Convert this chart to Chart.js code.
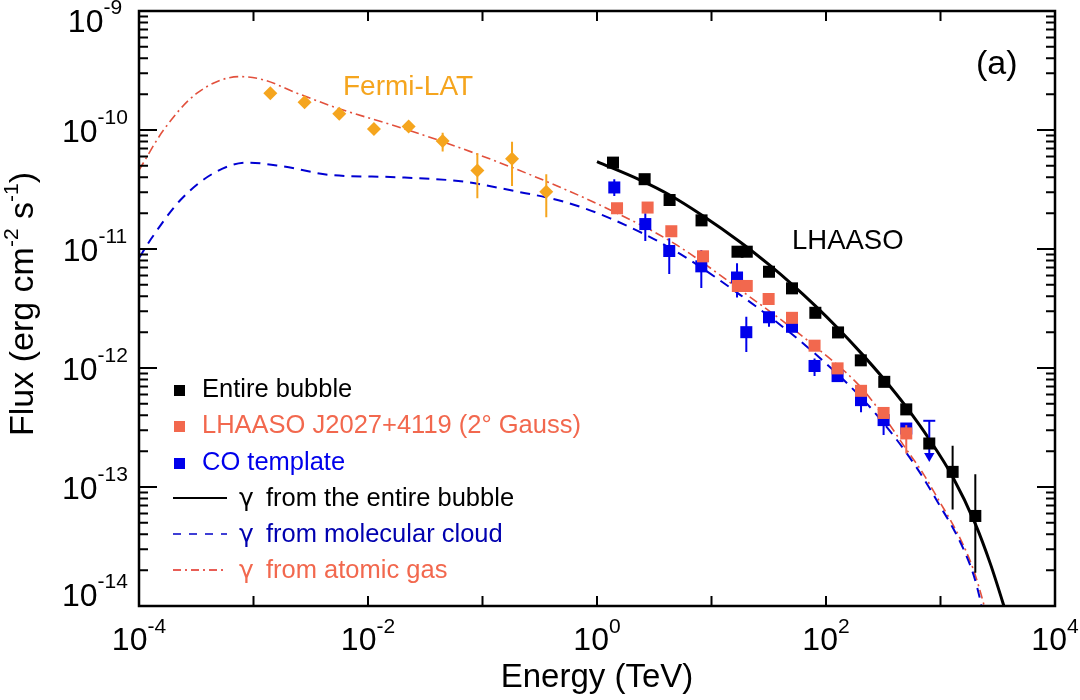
<!DOCTYPE html>
<html>
<head>
<meta charset="utf-8">
<script src="https://cdn.jsdelivr.net/npm/chart.js@4.4.1/dist/chart.umd.min.js"></script>
<style>
  body { margin: 0; background: #fff; }
  #wrap { width: 1080px; height: 700px; }
</style>
</head>
<body>
<div id="wrap"><canvas id="sed"></canvas></div>
<script>
// energies in TeV, fluxes in erg cm^-2 s^-1

// Fermi-LAT
const fermiE = [0.001403, 0.002793, 0.00561, 0.01127, 0.02265, 0.04487, 0.09016, 0.1811, 0.3606];
const fermiF = [2.04e-10, 1.71e-10, 1.37e-10, 1.02e-10, 1.07e-10, 8.1e-11, 4.56e-11, 5.74e-11, 3.03e-11];
const fermiLo = [null, null, null, null, null, 6.6e-11, 2.67e-11, 3.39e-11, 1.85e-11];
const fermiHi = [null, null, null, null, null, 9.5e-11, 6.38e-11, 7.98e-11, 4.25e-11];

// LHAASO, entire bubble
const bubbleE = [1.38, 2.606, 4.305, 8.185, 16.87, 20.32, 31.77, 50.47, 80.72, 127.4, 201.4, 322.8, 502.3, 798.0, 1276, 2014];
const bubbleF = [5.32e-11, 3.86e-11, 2.58e-11, 1.74e-11, 9.49e-12, 9.49e-12, 6.44e-12, 4.67e-12, 2.91e-12, 1.99e-12, 1.16e-12, 7.65e-13, 4.49e-13, 2.32e-13, 1.34e-13, 5.71e-14];
const bubbleLo = [null, null, null, null, null, null, null, null, null, null, null, null, null, null, 6.47e-14, 1.9e-14];
const bubbleHi = [null, null, null, null, null, null, null, null, null, null, null, null, null, null, 2.22e-13, 1.28e-13];

// LHAASO J2027+4119 (2 deg Gauss)
const gaussE = [1.496, 2.767, 4.457, 8.433, 16.98, 20.32, 31.55, 50.47, 79.43, 126.2, 202.3, 318.4, 502.3];
const gaussF = [2.2e-11, 2.23e-11, 1.41e-11, 8.68e-12, 4.89e-12, 4.89e-12, 3.8e-12, 2.64e-12, 1.54e-12, 9.93e-13, 6.43e-13, 4.19e-13, 2.82e-13];
const gaussLo = [null, null, null, null, null, null, null, null, null, null, null, null, 1.91e-13];
const gaussHi = [null, null, null, null, null, null, null, null, null, null, null, null, 3.31e-13];

// CO template
const coE = [1.416, 2.642, 4.276, 8.147, 16.71, 20.14, 31.77, 50.47, 79.43, 126.2, 202.3, 318.4, 502.3];
const coF = [3.29e-11, 1.62e-11, 9.62e-12, 7.15e-12, 5.76e-12, 2.0e-12, 2.67e-12, 2.22e-12, 1.04e-12, 8.55e-13, 5.37e-13, 3.65e-13, 3.1e-13];
const coLo = [2.79e-11, 1.17e-11, 6.16e-12, 4.7e-12, 3.91e-12, 1.36e-12, 2.22e-12, null, 8.55e-13, null, 4.24e-13, 2.73e-13, null];
const coHi = [3.86e-11, 2.0e-11, 1.23e-11, 9.8e-12, 7.58e-12, 2.7e-12, 2.97e-12, null, 1.2e-12, null, 6.95e-13, 3.65e-13, null];
const coUlE = [798];
const coUlTop = [3.6e-13];
const coUlBottom = [1.82e-13];

// model curves
const bubbleModelE = [1.0, 2.39, 4.31, 8.2, 17.9, 31.8, 50.5, 80.7, 127, 202, 323, 502, 798, 1276, 2014, 2723, 3556, 4074];
const bubbleModelF = [5.42e-11, 3.79e-11, 2.84e-11, 1.93e-11, 1.14e-11, 7.38e-12, 5.05e-12, 3.33e-12, 2.16e-12, 1.34e-12, 8.0e-13, 4.71e-13, 2.52e-13, 1.22e-13, 4.9e-14, 2.27e-14, 1.02e-14, 6.6e-15];

const molE = [1e-4, 1.256e-4, 2.3e-4, 4.49e-4, 8.77e-4, 1.714e-3, 4.69e-3, 0.0179, 0.0684, 0.187, 0.511, 1.306, 4.67, 17.9, 68.2, 200, 316, 509, 708, 1000, 1259, 1585, 1945, 2234, 2512];
const molF = [8.4e-12, 1.19e-11, 2.58e-11, 4.34e-11, 5.32e-11, 4.99e-11, 4.19e-11, 4.01e-11, 3.68e-11, 3.08e-11, 2.5e-11, 1.81e-11, 9.8e-12, 4.1e-12, 1.51e-12, 5.73e-13, 3.47e-13, 1.91e-13, 1.19e-13, 6.81e-14, 4.68e-14, 3.02e-14, 1.82e-14, 1.1e-14, 6.3e-15];

const atomE = [1e-4, 1.64e-4, 3.21e-4, 7.67e-4, 1.225e-3, 2.4e-3, 5.36e-3, 0.0179, 0.049, 0.134, 0.366, 1.306, 4.67, 17.9, 68.2, 200, 316, 509, 708, 1000, 1259, 1585, 1945, 2377, 2692];
const atomF = [4.6e-11, 1.0e-10, 2.04e-10, 2.81e-10, 2.64e-10, 2.04e-10, 1.53e-10, 1.07e-10, 7.75e-11, 5.42e-11, 3.68e-11, 2.13e-11, 1.12e-11, 4.52e-12, 1.72e-12, 6.95e-13, 3.98e-13, 2.04e-13, 1.29e-13, 7.31e-14, 5.0e-14, 3.24e-14, 2.0e-14, 1.05e-14, 6.3e-15];

const xTickExp = [-4, -2, 0, 2, 4];
const yTickExp = [-9, -10, -11, -12, -13, -14];

const BLACK = '#000000';
const SALMON = 'rgb(242,104,78)';
const BLUE = 'rgb(0,0,235)';
const ORANGE = 'rgb(245,165,30)';
const FONT = '"Liberation Sans", Arial, sans-serif';

function pts(xs, ys) {
  return xs.map((x, i) => ({ x: x, y: ys[i] }));
}
function segs(xs, lo, hi) {
  const out = [];
  xs.forEach((x, i) => {
    if (lo[i] == null) return;
    out.push({ x: x, y: lo[i] }, { x: x, y: hi[i] }, { x: x, y: null });
  });
  return out;
}
function errSet(data, color, order) {
  return { data: data, showLine: true, spanGaps: false, borderColor: color, borderWidth: 2, pointRadius: 0, order: order };
}
function markSet(data, color, style, r, order) {
  return { data: data, pointStyle: style, pointRadius: r, backgroundColor: color, borderColor: color, borderWidth: 0, order: order };
}

// "10" with a raised exponent, centred on cx
function supText(ctx, base, exp, cx, baseY, bigPx, smallPx, lift) {
  ctx.font = bigPx + 'px ' + FONT;
  const wb = ctx.measureText(base).width;
  ctx.font = smallPx + 'px ' + FONT;
  const we = ctx.measureText(exp).width;
  const x0 = cx - (wb + we) / 2;
  ctx.textAlign = 'left';
  ctx.font = bigPx + 'px ' + FONT;
  ctx.fillText(base, x0, baseY);
  ctx.font = smallPx + 'px ' + FONT;
  ctx.fillText(exp, x0 + wb, baseY - lift);
}

const decor = {
  id: 'decor',
  beforeDraw(chart) {
    const ctx = chart.ctx;
    ctx.save();
    ctx.fillStyle = '#fff';
    ctx.fillRect(0, 0, chart.width, chart.height);
    ctx.restore();
  },
  afterDraw(chart) {
    const { ctx, chartArea: a } = chart;
    const xs = chart.scales.x, ys = chart.scales.y;
    ctx.save();
    ctx.strokeStyle = BLACK;
    ctx.fillStyle = BLACK;

    // frame
    ctx.lineWidth = 2.5;
    ctx.strokeRect(a.left, a.top, a.right - a.left, a.bottom - a.top);

    // ticks, all pointing inwards
    ctx.lineWidth = 2;
    ctx.beginPath();
    for (let k = -4; k <= 4; k++) {
      const px = xs.getPixelForValue(Math.pow(10, k));
      ctx.moveTo(px, a.bottom); ctx.lineTo(px, a.bottom - 10);
      ctx.moveTo(px, a.top); ctx.lineTo(px, a.top + 10);
    }
    for (let k = -14; k <= -9; k++) {
      for (let m = 1; m <= 9; m++) {
        if (k === -9 && m > 1) break;
        const py = ys.getPixelForValue(m * Math.pow(10, k));
        const len = m === 1 ? 18 : 9;
        ctx.moveTo(a.left, py); ctx.lineTo(a.left + len, py);
        ctx.moveTo(a.right, py); ctx.lineTo(a.right - len, py);
      }
    }
    ctx.stroke();

    // tick labels
    ctx.textBaseline = 'alphabetic';
    xTickExp.forEach(e => {
      const px = xs.getPixelForValue(Math.pow(10, e));
      supText(ctx, '10', String(e), px, 650, 32, 21, 17);
    });
    yTickExp.forEach(e => {
      let base = ys.getPixelForValue(Math.pow(10, e)) + 11.5;
      if (e === -9) base = 32;
      if (e === -14) base = 606;
      supText(ctx, '10', String(e), 95, base, 32, 21, 18);
    });

    // axis titles
    ctx.font = '33px ' + FONT;
    ctx.textAlign = 'center';
    ctx.fillText('Energy (TeV)', 597, 687);

    ctx.save();
    ctx.translate(33, 304);
    ctx.rotate(-Math.PI / 2);
    const parts = [['Flux (erg cm', 34, 0], ['-2', 21, 15], [' s', 34, 0], ['-1', 21, 15], [')', 34, 0]];
    let total = 0;
    parts.forEach(p => { ctx.font = p[1] + 'px ' + FONT; total += ctx.measureText(p[0]).width; });
    let cx = -total / 2;
    ctx.textAlign = 'left';
    parts.forEach(p => {
      ctx.font = p[1] + 'px ' + FONT;
      ctx.fillText(p[0], cx, -p[2]);
      cx += ctx.measureText(p[0]).width;
    });
    ctx.restore();

    // annotations
    ctx.textAlign = 'left';
    ctx.font = '28px ' + FONT;
    ctx.fillStyle = ORANGE;
    ctx.fillText('Fermi-LAT', 343, 95);
    ctx.fillStyle = BLACK;
    ctx.font = '27.5px ' + FONT;
    ctx.fillText('LHAASO', 792, 249);
    ctx.font = '34px ' + FONT;
    ctx.fillText('(a)', 976, 74);

    // legend
    ctx.font = '25.5px ' + FONT;
    const markRows = [['Entire bubble', BLACK, 397], ['LHAASO J2027+4119 (2° Gauss)', SALMON, 433], ['CO template', BLUE, 470]];
    markRows.forEach(r => {
      ctx.fillStyle = r[1];
      ctx.fillRect(174, r[2] - 12, 11, 11);
      ctx.fillText(r[0], 202, r[2]);
    });
    const lineRows = [
      ['from the entire bubble', BLACK, BLACK, [], 2, 506],
      ['from molecular cloud', 'rgb(0,0,200)', 'rgb(0,0,175)', [8, 8], 1.5, 542],
      ['from atomic gas', 'rgb(225,40,30)', SALMON, [8, 4, 2, 4], 1.5, 578]
    ];
    lineRows.forEach(r => {
      ctx.strokeStyle = r[1];
      ctx.lineWidth = r[4];
      ctx.setLineDash(r[3]);
      ctx.beginPath();
      ctx.moveTo(173, r[5] - 8); ctx.lineTo(227, r[5] - 8);
      ctx.stroke();
      ctx.setLineDash([]);
      ctx.fillStyle = r[2];
      ctx.font = '25px "DejaVu Sans", sans-serif';
      ctx.fillText('\u03b3', 239, r[5]);
      ctx.font = '25.5px ' + FONT;
      ctx.fillText(r[0], 266, r[5]);
    });
    ctx.restore();
  }
};

new Chart(document.getElementById('sed'), {
  type: 'scatter',
  data: {
    datasets: [
      markSet(pts(bubbleE, bubbleF), BLACK, 'rect', 8.5, 0),
      errSet(segs(bubbleE, bubbleLo, bubbleHi), BLACK, 1),
      markSet(pts(gaussE, gaussF), SALMON, 'rect', 8.5, 2),
      errSet(segs(gaussE, gaussLo, gaussHi), SALMON, 3),
      markSet(pts(coE, coF), BLUE, 'rect', 8.5, 4),
      errSet(segs(coE, coLo, coHi), BLUE, 5),
      errSet(segs(coUlE, coUlBottom, coUlTop), BLUE, 6),
      { data: pts(coUlE, coUlTop), pointStyle: 'line', pointRadius: 6, borderColor: BLUE, borderWidth: 2, order: 6 },
      { data: pts(coUlE, coUlBottom), pointStyle: 'triangle', rotation: 180, pointRadius: 6, backgroundColor: BLUE, borderColor: BLUE, borderWidth: 0, order: 6 },
      markSet(pts(fermiE, fermiF), ORANGE, 'rectRot', 7, 7),
      errSet(segs(fermiE, fermiLo, fermiHi), ORANGE, 8),
      { data: pts(bubbleModelE, bubbleModelF), showLine: true, borderColor: BLACK, borderWidth: 3, pointRadius: 0, cubicInterpolationMode: 'monotone', order: 20 },
      { data: pts(molE, molF), showLine: true, borderColor: 'rgb(0,0,210)', borderWidth: 2, borderDash: [10, 7], pointRadius: 0, cubicInterpolationMode: 'monotone', order: 21 },
      { data: pts(atomE, atomF), showLine: true, borderColor: 'rgb(226,80,60)', borderWidth: 1.6, borderDash: [9, 4, 2, 4], pointRadius: 0, cubicInterpolationMode: 'monotone', order: 22 }
    ]
  },
  options: {
    responsive: true,
    maintainAspectRatio: false,
    animation: false,
    layout: { padding: { left: 139, right: 25, top: 11, bottom: 94 } },
    plugins: { legend: { display: false }, tooltip: { enabled: false } },
    scales: {
      x: { type: 'logarithmic', display: false, min: 1e-4, max: 1e4 },
      y: { type: 'logarithmic', display: false, min: 1e-14, max: 1e-9 }
    }
  },
  plugins: [decor]
});
</script>
</body>
</html>
